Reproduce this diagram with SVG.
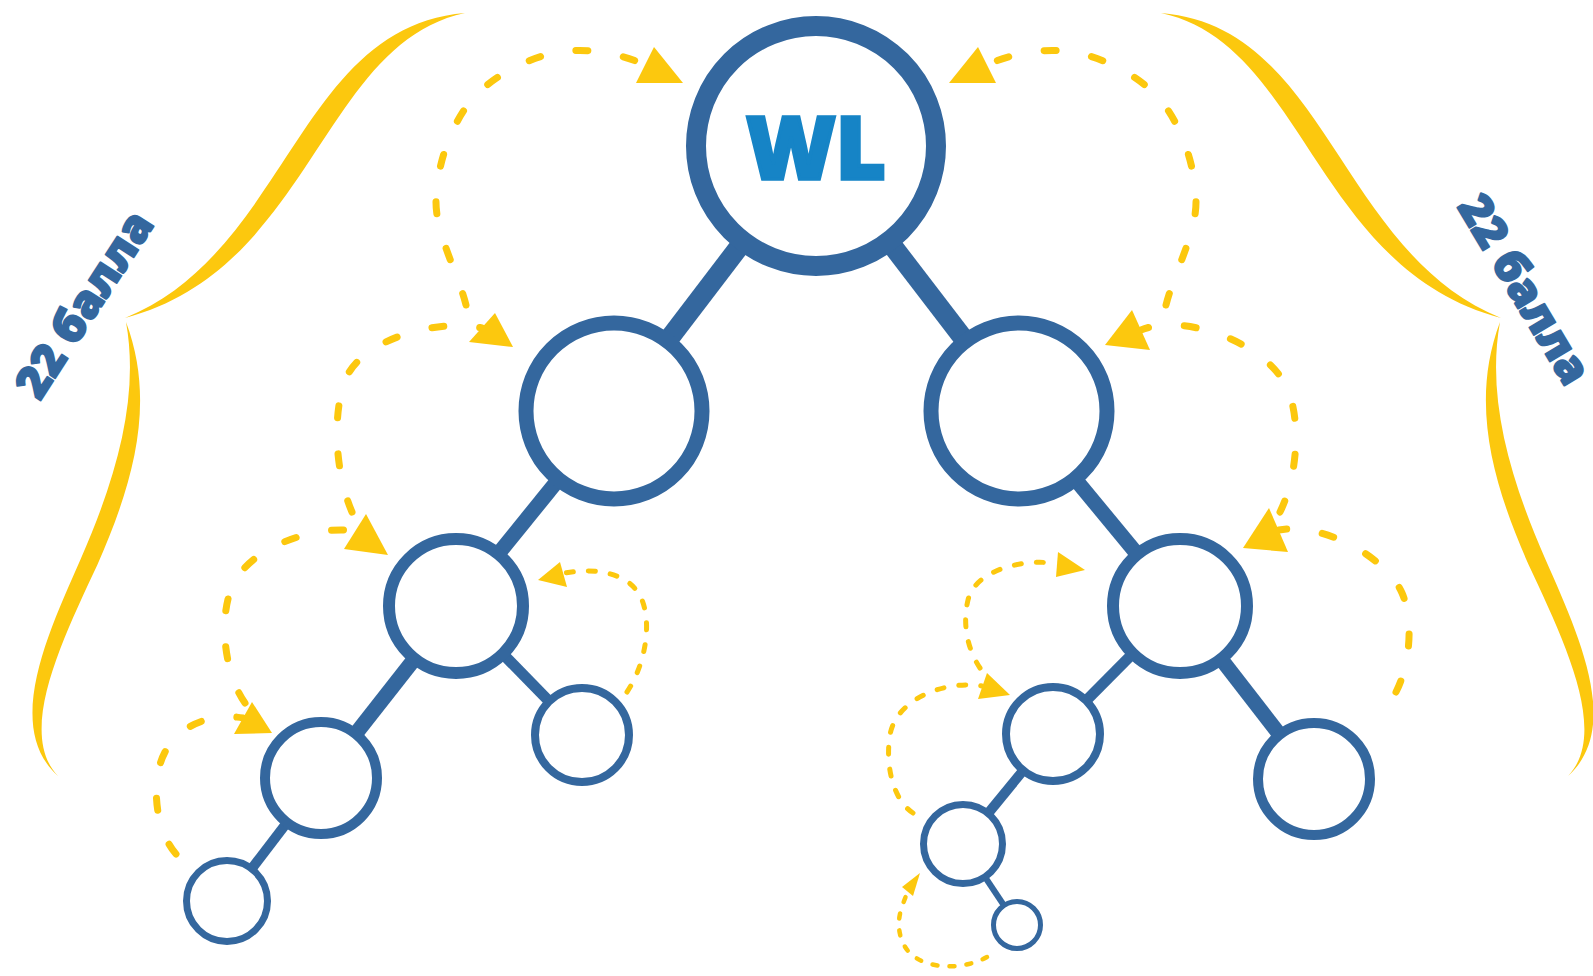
<svg xmlns="http://www.w3.org/2000/svg" width="1593" height="976" viewBox="0 0 1593 976">
<style>
.node{fill:#fff;stroke:#34679e}
.edge{stroke:#34679e;stroke-linecap:butt;fill:none}
.dash{fill:none;stroke:#fcc80e;stroke-linecap:round}
.d1{stroke-width:7;stroke-dasharray:12 36}
.d2{stroke-width:5;stroke-dasharray:7 15}
.d3{stroke-width:4.5;stroke-dasharray:5 12}
.ah{fill:#fcc80e}
.brace{fill:#fcc80e}
.lbl{font-family:"Open Sans","Noto Sans","Liberation Sans",sans-serif;font-weight:800;font-size:45px;fill:#34679e;stroke:#34679e;stroke-width:2;stroke-linejoin:round}
.wl{font-family:"Open Sans","Liberation Sans",sans-serif;font-weight:800;font-size:86px;fill:#1684c6;stroke:#1684c6;stroke-width:3.5;stroke-linejoin:miter}
</style>
<defs>
<g id="braceL">
<path class="brace" d="M465,13 C298.3,26.6 288.3,251.6 125,318 C311.7,268.4 321.7,43.4 465,13 Z"/>
<path class="brace" d="M126,322 C156.4,402.8 133.4,482.8 97.4,564.8 C63,638.6 16.4,732.8 58,776 C3.6,727.2 48.2,633 80.6,559.2 C116.6,477.2 139.6,397.2 126,322 Z"/>
</g>
</defs>
<rect width="1593" height="976" fill="#fff"/>
<g id="braces">
<use href="#braceL"/>
<use href="#braceL" transform="matrix(-1,0,0,1,1626,0)"/>
</g>
<g id="labels">
<text class="lbl" text-anchor="middle" transform="translate(84,304) rotate(-57) translate(0,16)">22 балла</text>
<text class="lbl" text-anchor="middle" transform="translate(1525,289) rotate(59) translate(0,16)">22 балла</text>
</g>
<g id="connectors">
<line class="edge" stroke-width="20" x1="816" y1="146" x2="614" y2="411"/>
<line class="edge" stroke-width="20" x1="816" y1="146" x2="1019" y2="411"/>
<line class="edge" stroke-width="15" x1="614" y1="411" x2="456" y2="606"/>
<line class="edge" stroke-width="15" x1="1019" y1="411" x2="1180" y2="606"/>
<line class="edge" stroke-width="15" x1="456" y1="606" x2="321" y2="778"/>
<line class="edge" stroke-width="11" x1="456" y1="606" x2="582" y2="735"/>
<line class="edge" stroke-width="10" x1="321" y1="778" x2="227" y2="901"/>
<line class="edge" stroke-width="11" x1="1180" y1="606" x2="1053" y2="734"/>
<line class="edge" stroke-width="15" x1="1180" y1="606" x2="1314" y2="779"/>
<line class="edge" stroke-width="10" x1="1053" y1="734" x2="963" y2="844"/>
<line class="edge" stroke-width="6" x1="963" y1="844" x2="1017" y2="925"/>
</g>
<g id="node-root">
<circle class="node" cx="816" cy="146" r="120" stroke-width="20"/>
<text class="wl" x="816" y="179" text-anchor="middle">WL</text>
</g>
<g id="node-l1-left"><circle class="node" cx="614" cy="411" r="88" stroke-width="15"/></g>
<g id="node-l1-right"><circle class="node" cx="1019" cy="411" r="88" stroke-width="15"/></g>
<g id="node-l2-left"><circle class="node" cx="456" cy="606" r="67" stroke-width="12"/></g>
<g id="node-l2-right"><circle class="node" cx="1180" cy="606" r="67" stroke-width="12"/></g>
<g id="node-l3-left"><circle class="node" cx="321" cy="778" r="56" stroke-width="10"/></g>
<g id="node-l3-mid-left"><circle class="node" cx="582" cy="735" r="47" stroke-width="8"/></g>
<g id="node-l3-mid-right"><circle class="node" cx="1053" cy="734" r="47" stroke-width="8"/></g>
<g id="node-l3-right"><circle class="node" cx="1314" cy="779" r="56" stroke-width="10"/></g>
<g id="node-leaf-left"><circle class="node" cx="227" cy="901" r="40.5" stroke-width="7"/></g>
<g id="node-l4-right"><circle class="node" cx="963" cy="844" r="39.5" stroke-width="7"/></g>
<g id="node-l5-right"><circle class="node" cx="1017" cy="925" r="23.5" stroke-width="5"/></g>
<g id="arrows">
<path class="dash d1" d="M466,305 C457.7,271.7 435.3,233.8 436,200 C436.7,166.2 450.3,126.5 470,102 C489.7,77.5 524.8,59.2 554,53 C583.2,46.8 618,52.2 645,65"/>
<polygon class="ah" points="654,47 636,83 683,83"/>
<path class="dash d1" d="M1166,305 C1174.3,271.7 1196.7,233.8 1196,200 C1195.3,166.2 1181.7,126.5 1162,102 C1142.3,77.5 1107.2,59.2 1078,53 C1048.8,46.8 1014,52.2 987,65"/>
<polygon class="ah" points="978,47 996,83 949,83"/>
<path class="dash d1" d="M352,512 C336,475 332,420 344,383 C358.4,338.6 440,318 482,328"/>
<polygon class="ah" points="495,313 469,342 513,347"/>
<path class="dash d1" d="M245,703 C225,675 218,620 232,587 C250.2,544.1 320,525 355,531"/>
<polygon class="ah" points="366,514 344,549 388,555"/>
<path class="dash d1" d="M176,854 C155,830 150,780 165,752 C183,718.4 222,714 243,718"/>
<polygon class="ah" points="252,702 234,734 272,733"/>
<path class="dash d2" d="M627,692 C645,665 652,625 642,600 C630,570 590,568 565,573"/>
<polygon class="ah" points="560,562 567,587 538,580"/>
<path class="dash d1" d="M1280,512 C1296,480 1302,425 1288,390 C1269.8,344.5 1185,312 1141,330"/>
<polygon class="ah" points="1132,310 1150,350 1105,345"/>
<path class="dash d1" d="M1396,692 C1410,665 1414,620 1402,593 C1385.2,555.2 1320,522 1279,530"/>
<polygon class="ah" points="1269,508 1288,552 1243,548"/>
<path class="dash d2" d="M980,668 C968,650 962,625 968,600 C975.8,567.5 1030,558 1057,564"/>
<polygon class="ah" points="1058,552 1056,577 1085,570"/>
<path class="dash d2" d="M913,813 C893,800 885,765 890,735 C896,699 945,680 982,686"/>
<polygon class="ah" points="987,673 978,699 1010,695"/>
<path class="dash d3" d="M987,957 C960,972 915,970 903,943 C893.4,921.4 903,905 907,893"/>
<polygon class="ah" points="920,873 902,887 913,896"/>
</g>
</svg>
